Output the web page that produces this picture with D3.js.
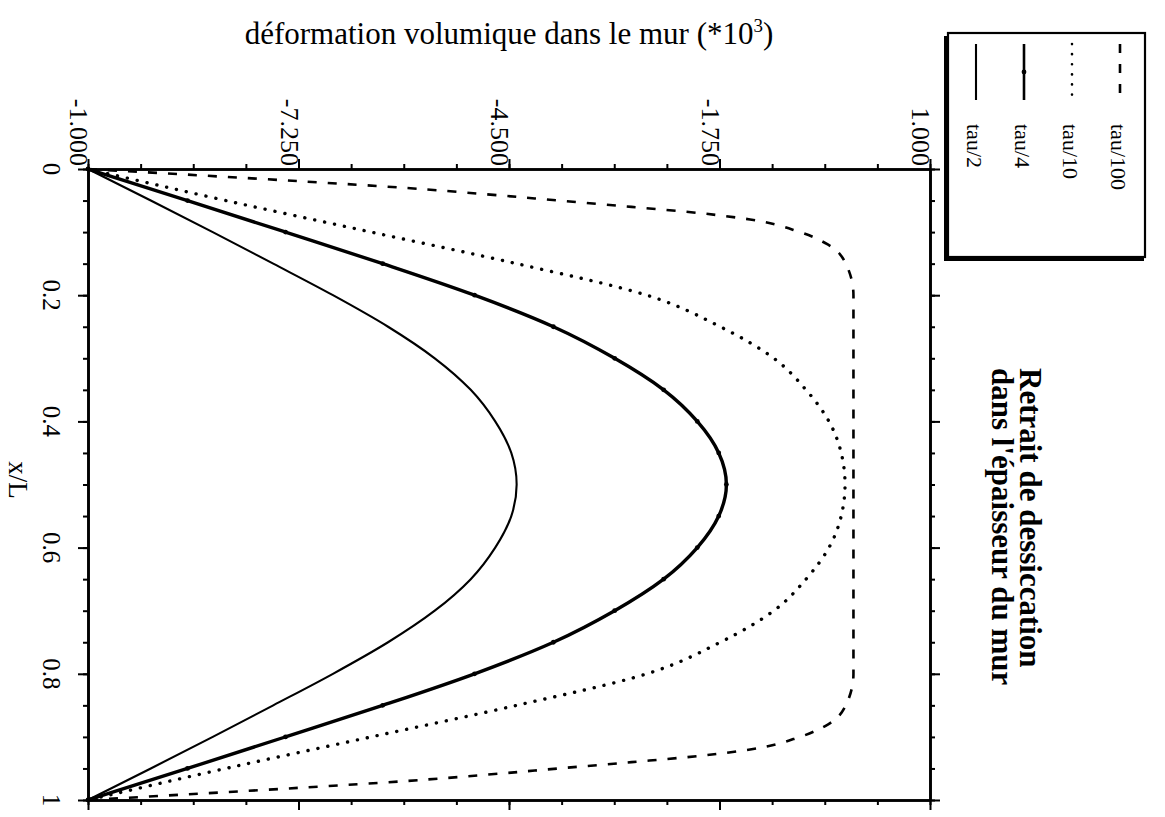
<!DOCTYPE html>
<html><head><meta charset="utf-8">
<script src="https://cdn.jsdelivr.net/npm/d3@7"></script>
<style>body{margin:0;background:#fff}svg{display:block}</style>
</head><body><svg id="c" width="1165" height="817"></svg>
<script>
// ---- data ----
const valueTicks = [-10, -7.25, -4.5, -1.75, 1];
const valueTickLabels = ["-1.000", "-7.250", "-4.500", "-1.750", "1.000"];
const posTicks = [0, 0.2, 0.4, 0.6, 0.8, 1];
const posTickLabels = ["0", "0.2", "0.4", "0.6", "0.8", "1"];
const seriesNames = ["tau/100", "tau/10", "tau/4", "tau/2"];

const xL100 = [0,0.01,0.02,0.03,0.04,0.05,0.06,0.07,0.08,0.10,0.12,0.15,0.20,0.30,0.40,0.50,0.60,0.70,0.80,0.85,0.88,0.90,0.92,0.93,0.94,0.95,0.96,0.97,0.98,0.99,1];
const v100 = [-10,-8.55,-7.15,-5.85,-4.8,-3.85,-2.9,-2.0,-1.35,-0.7,-0.33,-0.1,0,0,0,0,0,0,0,-0.1,-0.33,-0.7,-1.35,-2.0,-2.9,-3.85,-4.8,-5.85,-7.15,-8.55,-10];

const xLgrid = [0,0.05,0.10,0.15,0.20,0.25,0.30,0.35,0.40,0.45,0.50,0.55,0.60,0.65,0.70,0.75,0.80,0.85,0.90,0.95,1];
const v10 = [-10,-8.2,-6.3,-4.4,-2.7,-1.74,-1.04,-0.62,-0.32,-0.16,-0.11,-0.16,-0.32,-0.62,-1.04,-1.74,-2.7,-4.4,-6.3,-8.2,-10];
const v4  = [-10,-8.7,-7.42,-6.15,-4.95,-3.92,-3.12,-2.48,-2.04,-1.76,-1.66,-1.76,-2.04,-2.48,-3.12,-3.92,-4.95,-6.15,-7.42,-8.7,-10];
const v2  = [-10,-9.18,-8.37,-7.58,-6.8,-6.08,-5.47,-5.0,-4.68,-4.47,-4.40,-4.47,-4.68,-5.0,-5.47,-6.08,-6.8,-7.58,-8.37,-9.18,-10];

const titleTop = "déformation volumique dans le mur (*10";
const titleSide = ["Retrait de dessiccation", "dans l'épaisseur du mur"];
const posLabel = "x/L";

// ---- drawing ----
const svg = d3.select("#c");
svg.append("rect").attr("width",1165).attr("height",817).attr("fill","#fff");
const L = 88, R = 930, T = 169, B = 800;
const xVal = d3.scaleLinear().domain([-10, 1]).range([L, R]);
const yPos = d3.scaleLinear().domain([0, 1]).range([T, B]);
const serif = "'Liberation Serif','Times New Roman',serif";

const series = [
  {name: seriesNames[0], p: xL100, v: v100, dash: "9,11", w: 2.6, cap: "butt"},
  {name: seriesNames[1], p: xLgrid, v: v10, dash: "0.1,10", w: 3.4, cap: "round"},
  {name: seriesNames[2], p: xLgrid, v: v4, dash: null, w: 3.4, cap: "butt", marker: true},
  {name: seriesNames[3], p: xLgrid, v: v2, dash: null, w: 2.1, cap: "butt"}
];

const line = d3.line().x(d => xVal(d.v)).y(d => yPos(d.p)).curve(d3.curveMonotoneY);
const gCurves = svg.append("g");
series.forEach(s => {
  const pts = s.p.map((p, i) => ({p, v: s.v[i]}));
  gCurves.append("path").datum(pts).attr("d", line)
    .attr("fill","none").attr("stroke","#000").attr("stroke-width", s.w)
    .attr("stroke-dasharray", s.dash).attr("stroke-linecap", s.cap);
  if (s.marker) {
    gCurves.selectAll(null).data(pts).enter().append("circle")
      .attr("cx", d => xVal(d.v)).attr("cy", d => yPos(d.p)).attr("r", 2.4).attr("fill","#000");
  }
});

// axes
const minorVal = d3.range(0, 17).map(i => -10 + i * 0.6875);
const minorPos = d3.range(0, 21).map(i => i * 0.05);
function styleAxis(g){ g.select(".domain").attr("stroke-width",2.6); g.selectAll(".tick line").attr("stroke-width",2); g.selectAll("text").remove(); }
svg.append("g").attr("transform",`translate(0,${T})`).call(d3.axisTop(xVal).tickValues(minorVal).tickSize(5).tickSizeOuter(0)).call(styleAxis);
svg.append("g").attr("transform",`translate(0,${T})`).call(d3.axisTop(xVal).tickValues(valueTicks).tickSize(10).tickSizeOuter(0)).call(styleAxis);
svg.append("g").attr("transform",`translate(0,${B})`).call(d3.axisBottom(xVal).tickValues(minorVal).tickSize(5).tickSizeOuter(0)).call(styleAxis);
svg.append("g").attr("transform",`translate(0,${B})`).call(d3.axisBottom(xVal).tickValues(valueTicks).tickSize(10).tickSizeOuter(0)).call(styleAxis);
svg.append("g").attr("transform",`translate(${L},0)`).call(d3.axisLeft(yPos).tickValues(minorPos).tickSize(5).tickSizeOuter(0)).call(styleAxis);
svg.append("g").attr("transform",`translate(${L},0)`).call(d3.axisLeft(yPos).tickValues(posTicks).tickSize(10).tickSizeOuter(0)).call(styleAxis);
svg.append("g").attr("transform",`translate(${R},0)`).call(d3.axisRight(yPos).tickValues(minorPos).tickSize(5).tickSizeOuter(0)).call(styleAxis);
svg.append("g").attr("transform",`translate(${R},0)`).call(d3.axisRight(yPos).tickValues(posTicks).tickSize(10).tickSizeOuter(0)).call(styleAxis);

// tick labels (rotated)
svg.selectAll(null).data(valueTicks).enter().append("text")
  .attr("transform", d => `translate(${xVal(d) - 18},166) rotate(90)`)
  .attr("text-anchor","end").attr("font-family",serif).attr("font-size",26)
  .text((d,i) => valueTickLabels[i]);
svg.selectAll(null).data(posTicks).enter().append("text")
  .attr("transform", d => `translate(43,${yPos(d)}) rotate(90)`)
  .attr("text-anchor","middle").attr("font-family",serif).attr("font-size",25)
  .text((d,i) => posTickLabels[i]);

// axis titles
const tt = svg.append("text").attr("x", (L+R)/2).attr("y", 44).attr("text-anchor","middle")
  .attr("font-family",serif).attr("font-size",31);
tt.append("tspan").text(titleTop);
tt.append("tspan").attr("dy",-12).attr("font-size",19).text("3");
tt.append("tspan").attr("dy",12).text(")");

svg.append("text").attr("transform","translate(9,480) rotate(90)").attr("text-anchor","middle")
  .attr("font-family",serif).attr("font-size",27).text(posLabel);

titleSide.forEach((t, i) => {
  svg.append("text").attr("transform",`translate(${1020 - i*28},368) rotate(90)`)
    .attr("font-family",serif).attr("font-weight","bold").attr("font-size",31).text(t);
});

// legend
const lg = svg.append("g");
lg.append("rect").attr("x",944).attr("y",36).attr("width",200).attr("height",225).attr("fill","#000");
lg.append("rect").attr("x",948).attr("y",33).attr("width",197).attr("height",224)
  .attr("fill","#fff").attr("stroke","#000").attr("stroke-width",2.2);
const legX = [1120, 1072, 1024, 976];
series.forEach((s, i) => {
  lg.append("line").attr("x1",legX[i]).attr("x2",legX[i]).attr("y1",44).attr("y2",100)
    .attr("stroke","#000").attr("stroke-width", Math.min(s.w, 2.6))
    .attr("stroke-dasharray", s.dash).attr("stroke-linecap", s.cap);
  if (s.marker) lg.append("circle").attr("cx",legX[i]).attr("cy",72).attr("r",2.4).attr("fill","#000");
  lg.append("text").attr("transform",`translate(${legX[i]-9},124) rotate(90)`)
    .attr("font-family",serif).attr("font-size",22).text(s.name);
});
</script></body></html>
